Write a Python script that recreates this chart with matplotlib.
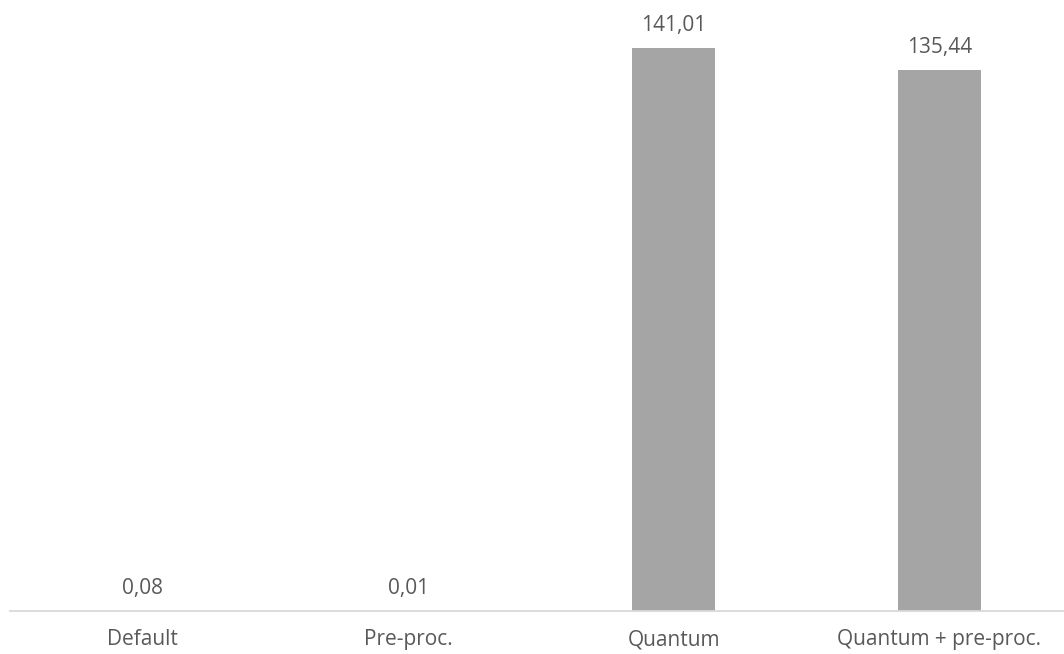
import matplotlib
matplotlib.use("Agg")
import matplotlib.pyplot as plt

categories = ["Default", "Pre-proc.", "Quantum", "Quantum + pre-proc."]
values = [0.08, 0.01, 141.01, 135.44]
value_labels = ["0,08", "0,01", "141,01", "135,44"]

W, H = 1064, 654
fig = plt.figure(figsize=(W / 100, H / 100), dpi=100)
ax = fig.add_axes([10 / W, 43 / H, (W - 10) / W, (H - 43) / H])
ax.set_xlim(-0.5, 3.47)
ax.set_ylim(0, 153)

x = list(range(len(categories)))
ax.bar(x, values, width=0.313, color="#A5A5A5", zorder=2)

for xi, v, lab in zip(x, values, value_labels):
    ax.annotate(lab, (xi, v), xytext=(0, 16), textcoords="offset points",
                ha="center", va="center", fontsize=15, color="#595959",
                family="Open Sans")

for s in ["top", "right", "left"]:
    ax.spines[s].set_visible(False)
ax.spines["bottom"].set_color("#D9D9D9")
ax.spines["bottom"].set_linewidth(1.3)
ax.set_yticks([])
ax.set_xticks(x)
ax.set_xticklabels(categories, fontsize=15, color="#595959", family="Open Sans")
ax.tick_params(axis="x", length=0, pad=13)

fig.savefig("out.png", dpi=100)
